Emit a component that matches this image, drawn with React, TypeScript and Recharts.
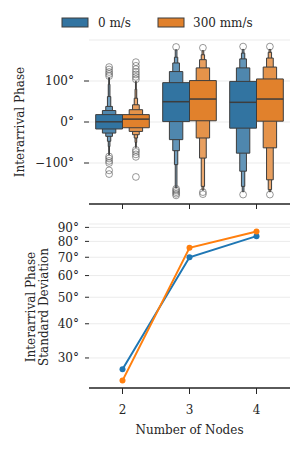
import {
  ComposedChart,
  LineChart,
  Line,
  Scatter,
  XAxis,
  YAxis,
  CartesianGrid,
  ReferenceArea,
  ReferenceLine,
} from "recharts";

const nodeCounts = [2, 3, 4];
const speeds = ["0 m/s", "300 mm/s"];

// letter-value boxes per node count, innermost first, [low, high] in degrees
const boxes0ms = [
  [[-17, 18], [-27, 28], [-35, 38], [-47, 62], [-60, 92], [-80, 108]],
  [[1, 96], [-43, 123], [-70, 144], [-104, 158], [-160, 176]],
  [[-15, 99], [-76, 132], [-120, 154], [-157, 168], [-170, 177]],
];
const boxes300mms = [
  [[-14, 18], [-23, 30], [-31, 42], [-39, 58], [-50, 80], [-62, 99]],
  [[3, 101], [-39, 132], [-88, 152], [-157, 164], [-166, 174]],
  [[2, 105], [-63, 134], [-141, 156], [-165, 170], [-170, 177]],
];
const medians0ms = [0.5, 49.5, 48];
const medians300mms = [7, 56, 56];
const outliers0ms = [
  [112, 117, 122, 128, 134, -84, -89, -95, -100, -118, -127],
  [183, -163, -167, -171, -175, -179],
  [184, -177],
];
const outliers300mms = [
  [104, 110, 116, 122, 129, 137, 146, -68, -73, -79, -85, -134],
  [181, -171, -176],
  [184, -177],
];

// bottom panel: standard deviation of interarrival phase
const stdDev0ms = [27.3, 70, 83.6];
const stdDev300mms = [24.8, 75.8, 87];

const phaseTicks = [-100, 0, 100];
const stdTicks = [30, 40, 50, 60, 70, 80, 90];

const FONT = "DejaVu Serif";
const INK = "#262626";
const EDGE = "#3d3d3d";
const boxColors = ["#3274a1", "#e1812c"];
const lineColors = ["#1f77b4", "#ff7f0e"];

function lighten(hex: string, t: number) {
  const n = parseInt(hex.slice(1), 16);
  const ch = [(n >> 16) & 255, (n >> 8) & 255, n & 255].map((c) =>
    Math.round(c + (255 - c) * t)
  );
  return `rgb(${ch[0]},${ch[1]},${ch[2]})`;
}

const deg = (v: number) => `${v < 0 ? "\u2212" + Math.abs(v) : v}°`;

const lineData = nodeCounts.map((n, i) => ({
  n,
  a: stdDev0ms[i],
  b: stdDev300mms[i],
}));

const groups = [
  { boxes: boxes0ms, medians: medians0ms, outliers: outliers0ms, offset: -0.2 },
  { boxes: boxes300mms, medians: medians300mms, outliers: outliers300mms, offset: 0.2 },
];

const fliers = groups.flatMap((g) =>
  g.outliers.flatMap((vals, i) => vals.map((y) => ({ x: i + g.offset, y })))
);

const tickStyle = { fill: INK, fontSize: 12, fontFamily: FONT };

function Flier(props: any) {
  const { cx, cy } = props;
  if (cx == null || cy == null) return null;
  return (
    <circle cx={cx} cy={cy} r={3.4} fill="none" stroke="#555" strokeOpacity={0.6} strokeWidth={1} />
  );
}

export default function App() {
  return (
    <div style={{ position: "absolute", left: 0, top: 0, width: 302, height: 449, background: "#fff" }}>
      <div style={{ position: "absolute", left: 0, top: 0 }}>
        <ComposedChart width={302} height={215} margin={{ top: 40, right: 12, bottom: 0, left: 0 }}>
          <CartesianGrid vertical={false} stroke="#ebebeb" />
          <XAxis
            type="number"
            dataKey="x"
            domain={[-0.5, 2.5]}
            ticks={[0, 1, 2]}
            tickFormatter={() => ""}
            height={11}
            stroke={INK}
            axisLine={{ stroke: INK, strokeWidth: 1.5 }}
            tickLine={{ stroke: INK }}
            tickSize={5}
          />
          <YAxis
            type="number"
            dataKey="y"
            domain={[-200, 200]}
            ticks={phaseTicks}
            interval={0}
            tickFormatter={deg}
            width={89}
            axisLine={false}
            tickLine={{ stroke: INK }}
            tickSize={5}
            tickMargin={10}
            tick={tickStyle}
          />
          {groups.map((g, h) =>
            g.boxes.map((levels, i) =>
              levels
                .map((lv, k) => {
                  const cx = i + g.offset;
                  const half = 0.2 * Math.pow(0.5, k);
                  return (
                    <ReferenceArea
                      key={`b${h}-${i}-${k}`}
                      x1={cx - half}
                      x2={cx + half}
                      y1={lv[0]}
                      y2={lv[1]}
                      fill={lighten(boxColors[h], [0, 0.14, 0.24, 0.32, 0.38, 0.42][k])}
                      fillOpacity={1}
                      stroke={EDGE}
                      strokeWidth={1}
                    />
                  );
                })
                .reverse()
            )
          )}
          {groups.map((g, h) =>
            g.medians.map((m, i) => (
              <ReferenceLine
                key={`m${h}-${i}`}
                segment={[
                  { x: i + g.offset - 0.2, y: m },
                  { x: i + g.offset + 0.2, y: m },
                ]}
                stroke={EDGE}
                strokeWidth={1.5}
              />
            ))
          )}
          <Scatter data={fliers} dataKey="y" shape={<Flier />} isAnimationActive={false} />
        </ComposedChart>
      </div>
      <div style={{ position: "absolute", left: 0, top: 215 }}>
        <LineChart width={302} height={234} data={lineData} margin={{ top: 9, right: 12, bottom: 31, left: 0 }}>
          <CartesianGrid vertical={false} stroke="#ebebeb" />
          <XAxis
            dataKey="n"
            type="number"
            domain={[1.5, 4.5]}
            ticks={nodeCounts}
            interval={0}
            height={30}
            axisLine={{ stroke: INK, strokeWidth: 1.5 }}
            tickLine={{ stroke: INK }}
            tickSize={6}
            tickMargin={11}
            tick={tickStyle}
          />
          <YAxis
            type="number"
            scale="log"
            domain={[23.3, 92.6]}
            allowDataOverflow
            ticks={stdTicks}
            interval={0}
            tickFormatter={deg}
            width={89}
            axisLine={false}
            tickLine={{ stroke: INK }}
            tickSize={4}
            tickMargin={6}
            tick={tickStyle}
          />
          <Line
            dataKey="a"
            name={speeds[0]}
            stroke={lineColors[0]}
            strokeWidth={2}
            dot={{ r: 3, fill: lineColors[0], stroke: "none" }}
            isAnimationActive={false}
          />
          <Line
            dataKey="b"
            name={speeds[1]}
            stroke={lineColors[1]}
            strokeWidth={2}
            dot={{ r: 3, fill: lineColors[1], stroke: "none" }}
            isAnimationActive={false}
          />
        </LineChart>
      </div>
      <svg
        width={302}
        height={449}
        style={{ position: "absolute", left: 0, top: 0, pointerEvents: "none" }}
        fontFamily={FONT}
        fontSize={12}
        fill={INK}
      >
        <rect x={62} y={18} width={26} height={9} fill={boxColors[0]} stroke={EDGE} strokeWidth={1} />
        <text x={98} y={27}>{speeds[0]}</text>
        <rect x={158} y={18} width={26} height={9} fill={boxColors[1]} stroke={EDGE} strokeWidth={1} />
        <text x={193} y={27}>{speeds[1]}</text>
        <text transform="translate(24,122) rotate(-90)" textAnchor="middle">
          Interarrival Phase
        </text>
        <text transform="translate(35,307) rotate(-90)" textAnchor="middle">
          Interarrival Phase
        </text>
        <text transform="translate(48,307) rotate(-90)" textAnchor="middle">
          Standard Deviation
        </text>
        <text x={189.5} y={434} textAnchor="middle">
          Number of Nodes
        </text>
      </svg>
    </div>
  );
}
